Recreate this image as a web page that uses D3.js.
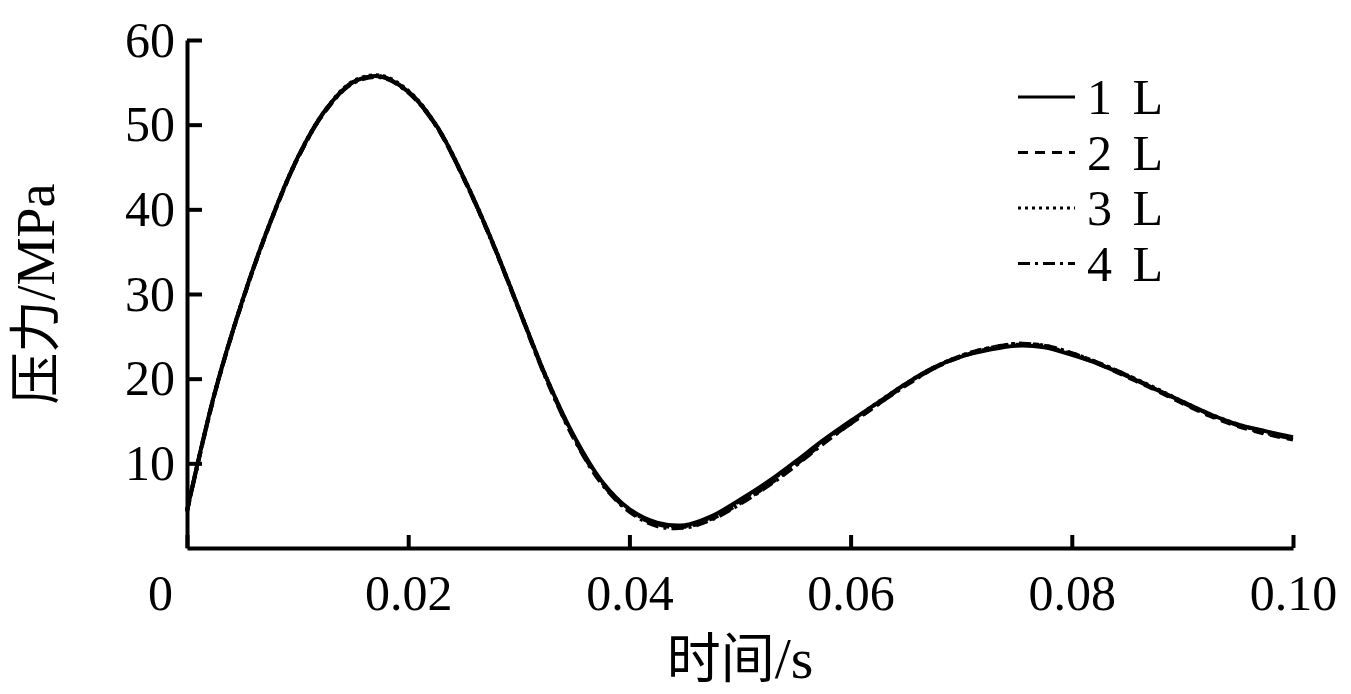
<!DOCTYPE html>
<html>
<head>
<meta charset="utf-8">
<script src="https://cdn.jsdelivr.net/npm/d3@7"></script>
<style>
  body { margin: 0; background: #fff; }
  svg { display: block; }
  text { font-family: "Liberation Serif", "Noto Sans CJK SC", serif; fill: #000; }
  .axis path, .axis line { stroke: #000; stroke-width: 4; }
  .axis text { font-size: 50px; font-family: "Liberation Serif", serif; }
  .line { fill: none; stroke: #000; stroke-width: 4; }
</style>
</head>
<body>
<svg width="1351" height="694"></svg>
<script>
// time axis (s)
var times = [0, 0.0025, 0.005, 0.0075, 0.01, 0.0125, 0.015, 0.0175, 0.02, 0.0225,
             0.025, 0.0275, 0.03, 0.0325, 0.035, 0.0375, 0.04, 0.0425, 0.045, 0.0475,
             0.05, 0.0525, 0.055, 0.0575, 0.06, 0.0625, 0.065, 0.0675, 0.07, 0.0725,
             0.075, 0.0775, 0.08, 0.0825, 0.085, 0.0875, 0.09, 0.0925, 0.095, 0.0975, 0.1];

// pressure (MPa) per volume
var p1L = [4.4, 18.3, 29.2, 38.4, 46.1, 51.7, 55.0, 55.7, 53.9, 50.0,
           43.8, 36.5, 28.3, 20.1, 13.2, 7.9, 4.6, 3.0, 2.7, 3.8,
           5.7, 7.8, 10.2, 12.7, 15.0, 17.2, 19.4, 21.3, 22.6, 23.4,
           23.9, 23.7, 22.8, 21.7, 20.3, 18.8, 17.3, 15.8, 14.6, 13.8, 13.1];
var p2L = [4.4, 18.2, 29.1, 38.3, 46.0, 51.6, 55.0, 55.7, 53.9, 49.9,
           43.7, 36.4, 28.2, 20.0, 13.0, 7.7, 4.4, 2.8, 2.5, 3.5,
           5.3, 7.4, 9.8, 12.4, 14.7, 17.0, 19.3, 21.2, 22.6, 23.5,
           24.0, 23.8, 22.9, 21.7, 20.2, 18.7, 17.1, 15.6, 14.4, 13.5, 12.8];
var p3L = [4.4, 18.3, 29.2, 38.4, 46.1, 51.7, 55.1, 55.8, 54.0, 50.0,
           43.8, 36.5, 28.3, 20.1, 13.1, 7.8, 4.5, 2.9, 2.6, 3.7,
           5.6, 7.7, 10.1, 12.6, 14.9, 17.2, 19.4, 21.3, 22.7, 23.6,
           24.1, 23.9, 23.0, 21.8, 20.4, 18.9, 17.3, 15.8, 14.6, 13.7, 13.0];
var p4L = [4.3, 18.2, 29.1, 38.3, 46.0, 51.6, 54.9, 55.6, 53.8, 49.9,
           43.7, 36.4, 28.2, 19.9, 12.9, 7.6, 4.3, 2.6, 2.4, 3.4,
           5.2, 7.3, 9.7, 12.3, 14.7, 17.0, 19.2, 21.2, 22.7, 23.6,
           24.1, 23.9, 23.0, 21.8, 20.4, 18.8, 17.2, 15.7, 14.5, 13.6, 12.9];

var seriesNames = ["1 L", "2 L", "3 L", "4 L"];
var xTicks = [0, 0.02, 0.04, 0.06, 0.08, 0.10];
var yTicks = [10, 20, 30, 40, 50, 60];

var svg = d3.select("svg"),
    margin = {top: 40, right: 58, bottom: 146, left: 187},
    width = svg.attr("width") - margin.left - margin.right,
    height = svg.attr("height") - margin.top - margin.bottom,
    g = svg.append("g").attr("transform", "translate(" + margin.left + "," + margin.top + ")");

var x = d3.scaleLinear().domain([0, 0.1]).range([0, width]),
    y = d3.scaleLinear().domain([0, 60]).range([height, 0]);

var dashes = {"1 L": null, "2 L": "10,7", "3 L": "3,4", "4 L": "12,5,3,5"};

var line = d3.line()
    .curve(d3.curveCatmullRom)
    .x(function(d) { return x(d.t); })
    .y(function(d) { return y(d.p); });

var series = [p1L, p2L, p3L, p4L].map(function(vals, i) {
    return {
        id: seriesNames[i],
        values: vals.map(function(p, j) { return {t: times[j], p: p}; })
    };
});

// Add X-Axis (ticks point inward)
var xAxis = g.append("g")
    .attr("class", "axis axis--x")
    .attr("transform", "translate(0," + height + ")")
    .call(d3.axisBottom(x)
        .tickValues(xTicks)
        .tickSizeInner(-13)
        .tickSizeOuter(0)
        .tickPadding(26)
        .tickFormat(function(d) { return d === 0 ? "0" : d3.format(".2f")(d); }));
xAxis.selectAll(".tick text").filter(function(d) { return d === 0; }).attr("x", -27);

// Add Y-Axis
g.append("g")
    .attr("class", "axis axis--y")
    .call(d3.axisLeft(y)
        .tickValues(yTicks)
        .tickSizeInner(-15)
        .tickSizeOuter(0)
        .tickPadding(12)
        .tickFormat(d3.format("d")));

// Axis titles: CJK part and latin part sized separately
var xTitle = svg.append("text")
    .attr("x", margin.left + width / 2)
    .attr("y", 678)
    .attr("text-anchor", "middle");
xTitle.append("tspan").style("font-size", "54px").text("时间");
xTitle.append("tspan").style("font-size", "58px").text("/s");

var yTitle = svg.append("text")
    .attr("transform", "translate(54," + (margin.top + height / 2) + ") rotate(-90)")
    .attr("text-anchor", "middle");
yTitle.append("tspan").style("font-size", "52px").text("压力");
yTitle.append("tspan").style("font-size", "54px").text("/MPa");

// Add Lines (draw 1 L last so it sits on top)
g.selectAll(".series")
    .data(series.slice().reverse())
    .enter().append("path")
    .attr("class", "line series")
    .attr("d", function(d) { return line(d.values); })
    .attr("stroke-dasharray", function(d) { return dashes[d.id]; });

// Legend
var legend = svg.append("g")
    .attr("transform", "translate(1018,97)");

var item = legend.selectAll(".item")
    .data(seriesNames)
    .enter().append("g")
    .attr("class", "item")
    .attr("transform", function(d, i) { return "translate(0," + (i * 55.5) + ")"; });

item.append("line")
    .attr("x1", 0)
    .attr("x2", 57)
    .attr("stroke", "#000")
    .attr("stroke-width", 3)
    .attr("stroke-dasharray", function(d) { return dashes[d]; });

item.append("text")
    .attr("x", 69)
    .attr("dy", "0.34em")
    .style("font-size", "50px")
    .style("word-spacing", "8px")
    .text(function(d) { return d; });
</script>
</body>
</html>
